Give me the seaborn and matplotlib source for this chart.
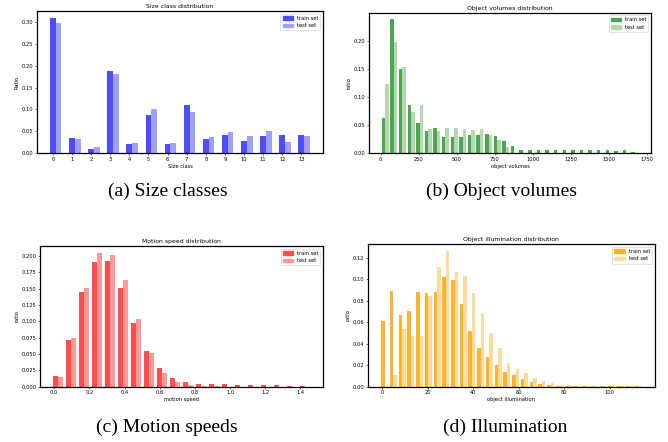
import numpy as np
import pandas as pd
import matplotlib
matplotlib.use("Agg")
import matplotlib.pyplot as plt
from matplotlib.patches import Patch
import seaborn as sns

# ---- data ----
size_classes = [0, 1, 2, 3, 4, 5, 6, 7, 8, 9, 10, 11, 12, 13]
size_train = [0.310, 0.035, 0.010, 0.189, 0.021, 0.086, 0.021, 0.111, 0.033, 0.042, 0.028, 0.040, 0.042, 0.042]
size_test = [0.299, 0.031, 0.0145, 0.182, 0.024, 0.102, 0.024, 0.095, 0.0375, 0.049, 0.040, 0.051, 0.026, 0.040]

volume_range = (3, 1700)
volume_train = [0.063, 0.238, 0.150, 0.086, 0.054, 0.040, 0.045, 0.029, 0.029, 0.029,
                0.0325, 0.0325, 0.034, 0.031, 0.022, 0.013, 0.006, 0.006, 0.006, 0.006,
                0.006, 0.006, 0.006, 0.006, 0.006, 0.006, 0.006, 0.004, 0.006, 0.002]
volume_test = [0.123, 0.198, 0.153, 0.073, 0.086, 0.043, 0.040, 0.045, 0.045, 0.043,
               0.041, 0.043, 0.0325, 0.024, 0.011, 0.0, 0.0, 0.0, 0.0, 0.0,
               0.0, 0.0, 0.0, 0.0, 0.0, 0.0, 0.0, 0.0, 0.0, 0.0]

speed_range = (-0.015, 1.463)
speed_train = [0.017, 0.072, 0.145, 0.191, 0.192, 0.151, 0.0975, 0.0546, 0.0286, 0.0133,
               0.0071, 0.004, 0.004, 0.004, 0.0026, 0.0026, 0.0026, 0.0026, 0.0015, 0.0015]
speed_test = [0.015, 0.075, 0.151, 0.205, 0.2015, 0.163, 0.1036, 0.0515, 0.021, 0.0071,
              0.0026, 0.001, 0.0005, 0.0003, 0.0002, 0.0002, 0.0002, 0.0002, 0.0001, 0.0001]

illum_range = (-1.0, 114.5)
illum_train = [0.0612, 0.0892, 0.0668, 0.0706, 0.0883, 0.0874, 0.0883, 0.1023, 0.0995, 0.0771,
               0.0519, 0.0361, 0.0277, 0.0202, 0.0137, 0.0109, 0.0072, 0.0044, 0.0025, 0.0016,
               0.0006, 0.0005, 0.0005, 0.0005, 0.0005, 0.0005, 0.0005, 0.0005, 0.0005, 0.0005]
illum_test = [0.0005, 0.0109, 0.0538, 0.0473, 0.0473, 0.0846, 0.1116, 0.1265, 0.107, 0.1032,
              0.0874, 0.0687, 0.050, 0.0361, 0.0221, 0.0165, 0.0127, 0.0081, 0.0053, 0.0034,
              0.0016, 0.0012, 0.0003, 0.0003, 0.0003, 0.0003, 0.0003, 0.0003, 0.0003, 0.0003]

SETS = ["train set", "test set"]
TICK_FS = 3.7
TITLE_FS = 4.4


def style_axes(ax, title, xlabel, ylabel):
    ax.set_title(title, fontsize=TITLE_FS, pad=2.2)
    ax.set_xlabel(xlabel, fontsize=TICK_FS, labelpad=1.5)
    ax.set_ylabel(ylabel, fontsize=TICK_FS, labelpad=1.5)
    ax.tick_params(labelsize=TICK_FS, length=1.3, width=0.4, pad=1.3)
    for sp in ax.spines.values():
        sp.set_linewidth(0.9)
        sp.set_color("black")


def add_legend(ax, colors):
    handles = [Patch(color=c, label=s) for c, s in zip(colors, SETS)]
    leg = ax.legend(handles=handles, loc="upper right", fontsize=TICK_FS,
                    framealpha=1, edgecolor="#cccccc")
    leg.get_frame().set_linewidth(0.4)


def binned_hist(ax, value_range, train, test, colors):
    n_bins = len(train)
    edges = np.linspace(value_range[0], value_range[1], n_bins + 1)
    centers = (edges[:-1] + edges[1:]) / 2
    df = pd.DataFrame({
        "x": np.concatenate([centers, centers]),
        "ratio": np.concatenate([train, test]),
        "set": [SETS[0]] * len(train) + [SETS[1]] * len(test),
    })
    sns.histplot(data=df, x="x", weights="ratio", hue="set", hue_order=SETS,
                 palette=dict(zip(SETS, colors)), bins=n_bins, binrange=value_range,
                 multiple="dodge", shrink=0.8, alpha=1, linewidth=0, legend=False, ax=ax)


fig = plt.figure(figsize=(6.68, 4.42), dpi=100)

# (a) size classes
ax_a = fig.add_axes([0.0554, 0.6538, 0.428, 0.3213])
blue = ["#4d4dff", "#9f9fff"]
sns.barplot(x=size_classes, y=size_train, native_scale=True, width=0.3, color=blue[0],
            saturation=1, errorbar=None, linewidth=0, ax=ax_a)
sns.barplot(x=np.array(size_classes) + 0.3, y=size_test, native_scale=True, width=0.3,
            color=blue[1], saturation=1, errorbar=None, linewidth=0, ax=ax_a)
ax_a.set_xticks(size_classes)
ax_a.set_xticklabels([str(c) for c in size_classes])
style_axes(ax_a, "Size class distribution", "Size class", "Ratio")
add_legend(ax_a, blue)

# (b) object volumes
ax_b = fig.add_axes([0.5524, 0.6538, 0.4222, 0.3174])
green = ["#4ca64c", "#b2d8b2"]
binned_hist(ax_b, volume_range, volume_train, volume_test, green)
ax_b.set_xticks([0, 250, 500, 750, 1000, 1250, 1500, 1750])
style_axes(ax_b, "Object volumes distribution", "object volumes", "ratio")
add_legend(ax_b, green)

# (c) motion speeds
ax_c = fig.add_axes([0.0599, 0.1251, 0.4237, 0.3183])
red = ["#ff4d4d", "#ff9999"]
binned_hist(ax_c, speed_range, speed_train, speed_test, red)
style_axes(ax_c, "Motion speed distribution", "motion speed", "ratio")
add_legend(ax_c, red)

# (d) illumination
ax_d = fig.add_axes([0.5509, 0.1251, 0.4292, 0.3222])
orange = ["#ffb22e", "#ffdb99"]
binned_hist(ax_d, illum_range, illum_train, illum_test, orange)
style_axes(ax_d, "Object illumination distribution", "object illumination", "ratio")
add_legend(ax_d, orange)

captions = [("(a) Size classes", 167.5, 191.5), ("(b) Object volumes", 501, 191.5),
            ("(c) Motion speeds", 167, 427.5), ("(d) Illumination", 505, 427.5)]
for text, px, py in captions:
    fig.text(px / 668, 1 - py / 442, text, ha="center", va="center",
             fontsize=14, family="Liberation Serif")

fig.savefig("out.png", dpi=100)
